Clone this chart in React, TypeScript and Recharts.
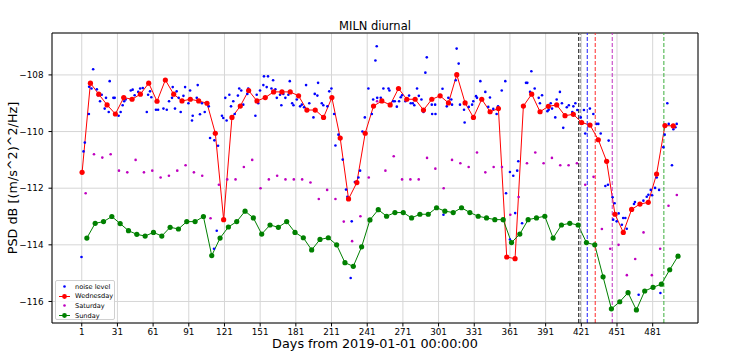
import React from 'react';
import { ComposedChart, Line, Scatter, XAxis, YAxis, CartesianGrid, ReferenceLine } from 'recharts';

// weekly series, one value per week (dB)
const wednesday = [
  -111.44, -108.29, -108.68, -109.06, -109.38, -108.80, -108.86, -108.68, -108.29, -108.93,
  -108.18, -108.68, -108.92, -108.86, -108.92, -109.00, -110.06, -113.11, -109.50, -109.10,
  -108.55, -108.92, -108.80, -108.60, -108.60, -108.60, -108.74, -109.24, -109.24, -109.50,
  -108.80, -110.23, -112.38, -111.80, -110.06, -109.10, -108.92, -109.06, -108.48, -108.86,
  -108.86, -109.24, -108.86, -108.74, -108.99, -107.99, -108.99, -109.50, -108.86, -109.30,
  -109.19, -114.43, -114.49, -109.10, -108.68, -109.30, -109.11, -109.06, -109.44, -109.39,
  -109.68, -109.77, -110.29, -111.05, -112.92, -113.56, -112.75, -112.56, -112.50, -111.50,
  -109.79, -109.80,
];

const saturday = [
  -112.18, -110.80, -110.92, -110.80, -111.38, -111.44, -111.00, -111.44, -111.38, -111.62,
  -111.56, -111.38, -111.19, -111.44, -111.56, -113.06, -111.88, -111.69, -111.69, -111.25,
  -111.00, -112.00, -111.69, -111.56, -111.69, -111.69, -111.69, -111.80, -112.38, -112.06,
  -112.38, -113.18, -113.87, -112.99, -111.62, -108.93, -111.38, -110.87, -111.69, -111.69,
  -111.69, -110.93, -111.31, -112.00, -111.00, -111.12, -111.25, -110.74, -111.44, -111.25,
  -111.25, -112.94, -112.31, -111.12, -110.74, -111.12, -110.93, -111.19, -111.19, -111.12,
  -111.88, -111.60, -113.44, -114.14, -114.00, -115.07, -114.50, -113.56, -115.07, -114.14,
  -112.62, -112.24,
];

const sunday = [
  -113.76, -113.24, -113.18, -113.00, -113.25, -113.50, -113.63, -113.69, -113.56, -113.69,
  -113.38, -113.44, -113.18, -113.18, -113.00, -114.38, -113.76, -113.37, -113.18, -112.81,
  -113.05, -113.62, -113.30, -113.38, -113.18, -113.56, -113.75, -114.18, -113.81, -113.75,
  -114.00, -114.63, -114.76, -114.07, -113.12, -112.76, -112.99, -112.86, -112.86, -113.05,
  -112.92, -112.92, -112.69, -112.81, -112.86, -112.69, -112.86, -112.99, -113.05, -113.11,
  -113.11, -113.92, -113.62, -113.11, -113.05, -112.99, -113.76, -113.30, -113.24, -113.30,
  -113.92, -114.00, -115.13, -116.26, -116.01, -115.69, -116.30, -115.63, -115.50, -115.39,
  -114.88, -114.40,
];

const WED_FIRST = 1.3;
const SAT_FIRST = 4.3;
const SUN_FIRST = 5.3;

// noise level samples
const noiseDays = [
  0.8, 2.5, 3.6, 7.0, 7.2, 9.2, 10.6, 13.7, 14.8, 16.4, 17.8, 20.3, 21.4, 23.7, 24.5, 27.6, 28.7, 32.0, 33.7, 35.4,
  36.7, 37.9, 42.2, 43.8, 45.5, 48.5, 50.1, 52.3, 55.7, 56.8, 58.4, 59.5, 63.4, 65.2,
  69.7, 72.5, 74.4, 76.9, 77.5, 79.4, 80.8, 82.5, 84.2, 86.5, 87.9, 90.7, 92.1, 93.7, 94.3, 97.7, 98.5, 100.4, 102.1, 104.4,
  107.8, 108.9, 112.5, 115.6, 114.5, 112.2, 118.9, 120.0, 121.7, 122.8, 125.1, 126.5, 128.4, 129.6, 132.3, 133.4, 135.1, 136.8, 140.2, 141.0,
  147.0, 148.1, 149.4, 150.9, 153.7, 154.2, 156.5, 157.6, 160.5, 161.9, 163.8, 165.0, 167.7, 168.8, 170.5, 172.2, 174.7, 175.9, 177.9, 179.0,
  181.8, 184.6, 186.0, 187.9, 189.6, 192.3, 195.8, 196.9, 199.1, 199.7, 202.8, 204.1, 207.5, 209.1, 210.9, 213.2, 214.3, 216.8,
  220.4, 223.2, 224.3, 228.0, 227.1, 230.6, 232.3, 233.6, 235.0, 237.0, 239.0, 242.0, 244.9, 246.0, 247.9, 249.0, 249.4, 252.4, 254.6, 258.9,
  259.7, 262.8, 264.2, 265.9, 267.8, 269.2, 270.3, 273.1, 276.2, 277.6, 279.3, 280.6, 282.9, 284.4, 286.6, 288.3, 289.9, 291.1,
  295.3, 295.6, 298.1, 298.4, 304.3, 305.1, 307.9, 309.2, 311.7, 312.3, 315.4, 316.2, 317.9, 319.0, 322.4, 322.9, 326.4, 329.2, 330.2, 332.5,
  333.3, 336.1, 340.3, 342.8, 344.2, 347.0, 349.8, 351.0, 354.1, 357.1, 357.7, 361.0, 361.0, 363.8, 365.4, 367.1, 368.0,
  371.2, 374.5, 375.6, 377.9, 379.0, 381.8, 385.2, 386.2, 388.0, 392.5, 393.6, 395.3, 396.4, 399.1, 400.3, 403.0, 404.7, 405.8, 408.8, 410.5,
  413.4, 414.3, 416.0, 417.6, 420.5, 423.2, 424.3, 427.2, 428.2, 431.1, 433.9, 435.3, 437.3, 441.2, 443.4, 444.0,
  447.3, 449.0, 447.8, 450.7, 452.4, 455.1, 456.2, 458.0, 459.2, 463.0, 465.3, 466.1, 469.2, 473.2, 476.0, 477.4, 479.4, 480.5, 483.0, 484.4,
  486.4, 487.5, 490.0, 491.1, 493.3, 494.5, 497.2, 498.4, 500.1, 501.2,
];
const noiseLevels = [
  -114.43, -110.70, -110.39, -109.38, -108.42, -108.48, -107.80, -108.51, -108.72, -108.93, -108.70, -109.19, -108.81, -109.31, -108.22, -108.81, -108.81, -109.44, -109.31, -109.07,
  -108.93, -108.87, -108.55, -108.52, -108.72, -108.60, -108.48, -108.46, -109.31, -108.70, -108.58, -108.79, -109.23, -109.23,
  -109.19, -109.23, -108.93, -108.81, -108.43, -109.19, -108.58, -108.81, -109.31, -108.74, -108.43, -109.00, -108.55, -109.61, -109.44, -108.81, -108.36, -109.39, -109.00, -109.31,
  -109.11, -110.23, -110.31, -110.50, -113.50, -114.14, -109.44, -109.52, -108.81, -109.61, -108.70, -109.11, -108.93, -109.38, -108.73, -108.48, -108.55, -109.05, -108.67, -108.48,
  -109.44, -108.70, -109.00, -108.55, -108.36, -108.05, -108.43, -108.05, -108.48, -108.19, -108.51, -108.81, -108.70, -109.07, -108.67, -108.81, -108.70, -108.22, -109.00, -109.07,
  -108.87, -109.11, -109.05, -109.14, -108.36, -109.00, -109.50, -108.67, -108.73, -108.28, -109.00, -109.07, -109.11, -108.58, -108.48, -109.38, -110.49, -110.11,
  -110.99, -112.05, -112.30, -113.17, -115.17, -111.78, -111.78, -111.62, -111.38, -110.00, -109.50, -108.48, -109.38, -108.87, -107.49, -106.99, -108.81, -108.81, -108.48, -108.48,
  -108.55, -108.93, -108.93, -109.12, -108.93, -108.79, -108.72, -108.93, -108.73, -109.00, -109.00, -109.07, -108.48, -108.74, -108.87, -109.31, -107.92, -107.38,
  -109.05, -109.38, -109.05, -109.38, -108.49, -112.94, -109.11, -108.81, -108.87, -109.05, -108.19, -107.07, -107.60, -109.05, -109.23, -109.68, -109.13, -109.05, -108.93, -108.75,
  -108.81, -108.22, -108.60, -109.13, -108.80, -109.20, -109.38, -109.11, -108.55, -108.22, -112.18, -111.43, -113.81, -111.56, -112.88, -111.38, -111.05,
  -113.24, -108.28, -108.28, -108.60, -107.87, -108.48, -108.81, -109.00, -108.72, -109.28, -109.23, -109.00, -109.19, -109.50, -108.87, -108.60, -109.00, -109.87, -109.14, -109.07,
  -109.31, -109.11, -109.00, -109.24, -109.50, -109.24, -110.07, -109.80, -109.19, -109.38, -109.73, -109.73, -110.07, -111.92, -111.88, -110.32,
  -112.32, -112.53, -113.11, -113.17, -112.89, -113.29, -113.05, -113.05, -113.43, -112.76, -112.56, -112.49, -115.76, -112.44, -112.30, -112.23, -112.06, -112.25, -111.99, -111.62,
  -112.06, -115.70, -110.55, -110.11, -109.00, -109.73, -111.19, -109.92, -109.85, -109.73,
];

// event markers (dashed vertical lines)
const eventDays = [418.8, 420.1, 426.0, 432.7, 447.0, 490.4];
const eventColors = ['#1a1a1a', '#808080', '#1c1cff', '#ff2a2a', '#c030c0', '#3cae3c'];

const xTicks = [1, 31, 61, 91, 121, 151, 181, 211, 241, 271, 301, 331, 361, 391, 421, 451, 481];
const yTicks = [-116, -114, -112, -110, -108];

const X_DOMAIN: [number, number] = [-24, 519.1];
const Y_DOMAIN: [number, number] = [-116.76, -106.52];

const FONT = '"DejaVu Sans", sans-serif';

const weekly = (vals: number[], first: number) => vals.map((v, i) => ({ day: first + 7 * i, v }));

const wedData = weekly(wednesday, WED_FIRST);
const satData = weekly(saturday, SAT_FIRST);
const sunData = weekly(sunday, SUN_FIRST);
const noiseData = noiseDays.map((d, i) => ({ day: d, v: noiseLevels[i] }));

const minus = (v: number) => String(v).replace('-', '\u2212');

const dotShape = (color: string, r: number) => (props: any) => (
  <circle cx={props.cx} cy={props.cy} r={r} fill={color} />
);

const legendRows = [
  { name: 'noise level', color: '#0000ff', line: false, r: 1.3 },
  { name: 'Wednesday', color: '#ff0000', line: true, r: 2.4 },
  { name: 'Saturday', color: '#bf00bf', line: false, r: 1.3 },
  { name: 'Sunday', color: '#008000', line: true, r: 2.4 },
];

const Legend = () => (
  <div
    style={{
      position: 'absolute', left: 55, top: 280, width: 60, height: 40,
      border: '1px solid #d0d0d0', borderRadius: 2, background: 'rgba(255,255,255,0.85)',
      boxSizing: 'border-box', fontFamily: FONT, fontSize: 6.6, paddingTop: 1,
    }}
  >
    {legendRows.map((row) => (
      <div key={row.name} style={{ display: 'flex', alignItems: 'center', height: 9.6 }}>
        <svg width={18} height={9} style={{ marginLeft: 1 }}>
          {row.line && <line x1={2} y1={4.5} x2={13} y2={4.5} stroke={row.color} strokeWidth={1} />}
          <circle cx={7.5} cy={4.5} r={row.r} fill={row.color} />
        </svg>
        <span>{row.name}</span>
      </div>
    ))}
  </div>
);

export default function App() {
  return (
    <div style={{ position: 'absolute', left: 0, top: 0, width: 739, height: 362, background: '#fff' }}>
      <div
        style={{
          position: 'absolute', left: 52, width: 646, top: 18.5, textAlign: 'center',
          fontFamily: FONT, fontSize: 11.5, color: '#000',
        }}
      >
        MILN diurnal
      </div>
      <ComposedChart width={739} height={362} margin={{ top: 33, right: 41, bottom: 0, left: 0 }}>
        <CartesianGrid stroke="#d6d6d6" strokeWidth={1} />
        <XAxis
          type="number"
          dataKey="day"
          domain={X_DOMAIN}
          ticks={xTicks}
          interval={0}
          allowDataOverflow
          height={39}
          tickSize={3.5}
          tickMargin={2}
          stroke="#000"
          tick={{ fontSize: 8.8, fill: '#000', fontFamily: FONT }}
          label={{
            content: () => (
              <text x={375} y={348} textAnchor="middle" fontSize={12.8} fontFamily={FONT} fill="#000">
                Days from 2019-01-01 00:00:00
              </text>
            ),
          }}
        />
        <YAxis
          type="number"
          dataKey="v"
          domain={Y_DOMAIN}
          ticks={yTicks}
          interval={0}
          allowDataOverflow
          width={52}
          tickSize={3.5}
          tickMargin={5}
          stroke="#000"
          tickFormatter={minus}
          tick={{ fontSize: 8.8, fill: '#000', fontFamily: FONT }}
          label={{
            content: () => (
              <text
                x={12}
                y={178}
                transform="rotate(-90 12 178)"
                textAnchor="middle"
                dominantBaseline="central"
                fontSize={12.8}
                fontFamily={FONT}
                fill="#000"
              >
                PSD dB [(m/s^2)^2/Hz]
              </text>
            ),
          }}
        />
        <ReferenceLine y={Y_DOMAIN[1]} stroke="#000" strokeWidth={1} />
        <ReferenceLine x={X_DOMAIN[1]} stroke="#000" strokeWidth={1} />
        <Scatter data={noiseData} dataKey="v" fill="#0000ff" shape={dotShape('#0000ff', 1.3)} isAnimationActive={false} />
        <Line
          data={wedData}
          dataKey="v"
          type="linear"
          stroke="#ff0000"
          strokeWidth={1}
          dot={{ r: 2.6, fill: '#ff0000', stroke: '#ff0000', strokeWidth: 0 }}
          activeDot={false}
          isAnimationActive={false}
        />
        <Scatter data={satData} dataKey="v" fill="#bf00bf" shape={dotShape('#bf00bf', 1.3)} isAnimationActive={false} />
        <Line
          data={sunData}
          dataKey="v"
          type="linear"
          stroke="#008000"
          strokeWidth={1}
          dot={{ r: 2.6, fill: '#008000', stroke: '#008000', strokeWidth: 0 }}
          activeDot={false}
          isAnimationActive={false}
        />
        {eventDays.map((d, i) => (
          <ReferenceLine key={d} x={d} stroke={eventColors[i]} strokeWidth={1} strokeDasharray="4 2" />
        ))}
      </ComposedChart>
      <Legend />
    </div>
  );
}
